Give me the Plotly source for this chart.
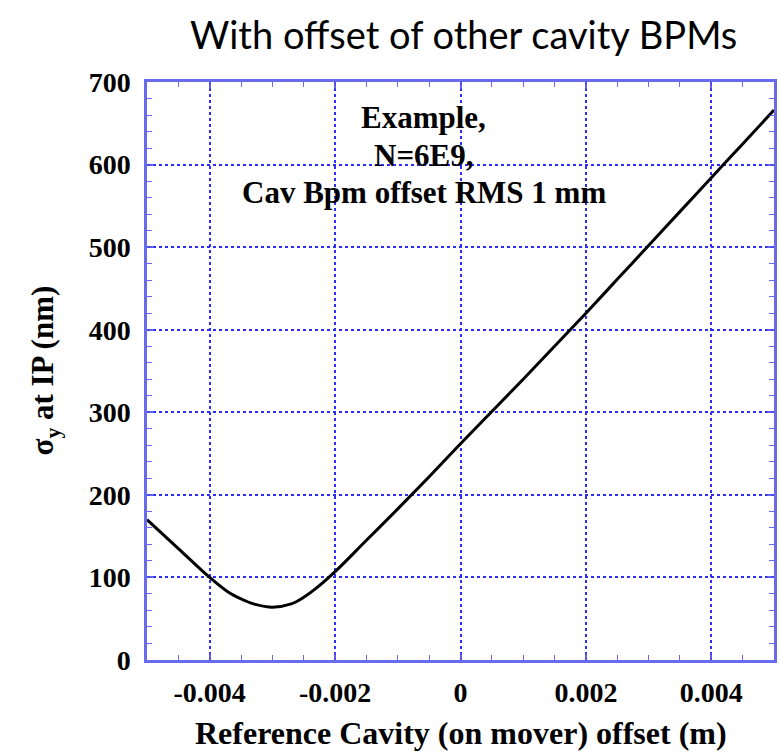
import plotly.graph_objects as go

# Reference cavity offset (m) vs vertical beam size at IP (nm)
offset_m = [-0.005, -0.0045, -0.004, -0.0037, -0.0035, -0.0033, -0.003, -0.0027,
            -0.0025, -0.0023, -0.002, -0.0015, -0.001, -0.0005, 0.0, 0.0005, 0.001,
            0.0015, 0.002, 0.0025, 0.003, 0.0035, 0.004, 0.0045, 0.005]
sigma_y_nm = [170, 135, 100, 82, 74, 68, 64, 68,
              76, 87, 107, 145, 183, 222, 262, 301, 340,
              380, 420, 461, 502, 543, 584, 625, 666]

x_tickvals = [-0.004, -0.002, 0, 0.002, 0.004]
x_ticktext = ["-0.004", "-0.002", "0", "0.002", "0.004"]
y_tickvals = [0, 100, 200, 300, 400, 500, 600, 700]

note_lines = ["Example,", "N=6E9,", "Cav Bpm offset RMS 1 mm"]

serif = "Liberation Serif, Times New Roman, serif"
axis_blue = "rgba(80,80,235,0.85)"
grid_blue = "rgb(45,45,250)"

fig = go.Figure()
fig.add_trace(go.Scatter(
    x=offset_m, y=sigma_y_nm, mode="lines",
    line=dict(color="black", width=3, shape="spline", smoothing=1.0),
    showlegend=False, hoverinfo="x+y",
))

common_axis = dict(
    showline=True, linecolor=axis_blue, linewidth=2.5, mirror="ticks",
    ticks="inside", tickcolor=axis_blue, tickwidth=1.5, ticklen=7,
    showgrid=True, gridcolor=grid_blue, gridwidth=1.5, griddash="dot",
    zeroline=False,
    tickfont=dict(family=serif, size=28, color="black", weight="bold"),
)

fig.update_xaxes(
    range=[-0.005, 0.005], tickvals=x_tickvals, ticktext=x_ticktext,
    minor=dict(dtick=0.0005, tick0=0, ticks="inside", ticklen=5,
               tickcolor=axis_blue, tickwidth=1.2, showgrid=False),
    ticklabelstandoff=6,
    **common_axis,
)
fig.update_yaxes(
    range=[0, 700], tickvals=y_tickvals,
    minor=dict(dtick=20, tick0=0, ticks="inside", ticklen=5,
               tickcolor=axis_blue, tickwidth=1.2, showgrid=False),
    ticklabelstandoff=8,
    **common_axis,
)

annotations = [
    dict(text="With offset of other cavity BPMs", xref="paper", yref="paper",
         x=(465 - 147) / 630, y=1 + (82 - 34) / 578, showarrow=False,
         font=dict(family="Lato, Open Sans, sans-serif", size=38, color="black"),
         xanchor="center", yanchor="middle"),
    dict(text="Reference Cavity (on mover) offset (m)", xref="paper", yref="paper",
         x=0.5, y=-(733 - 660) / 578, showarrow=False,
         font=dict(family=serif, size=32, color="black", weight="bold"),
         xanchor="center", yanchor="middle"),
    dict(text="σ<sub>y</sub> at IP (nm)", xref="paper", yref="paper",
         x=-(147 - 45) / 630, y=(660 - 370) / 578, showarrow=False, textangle=-90,
         font=dict(family=serif, size=31, color="black", weight="bold"),
         xanchor="center", yanchor="middle"),
]
for line_text, y_px in zip(note_lines, [117, 155, 192]):
    annotations.append(dict(
        text=line_text, xref="paper", yref="paper",
        x=(425 - 147) / 630, y=(660 - y_px) / 578, showarrow=False,
        font=dict(family=serif, size=31, color="black", weight="bold"),
        xanchor="center", yanchor="middle",
    ))

fig.update_layout(
    width=780, height=753,
    margin=dict(l=147, r=3, t=82, b=93),
    paper_bgcolor="white", plot_bgcolor="white",
    annotations=annotations,
)

fig.write_html("out.html")
